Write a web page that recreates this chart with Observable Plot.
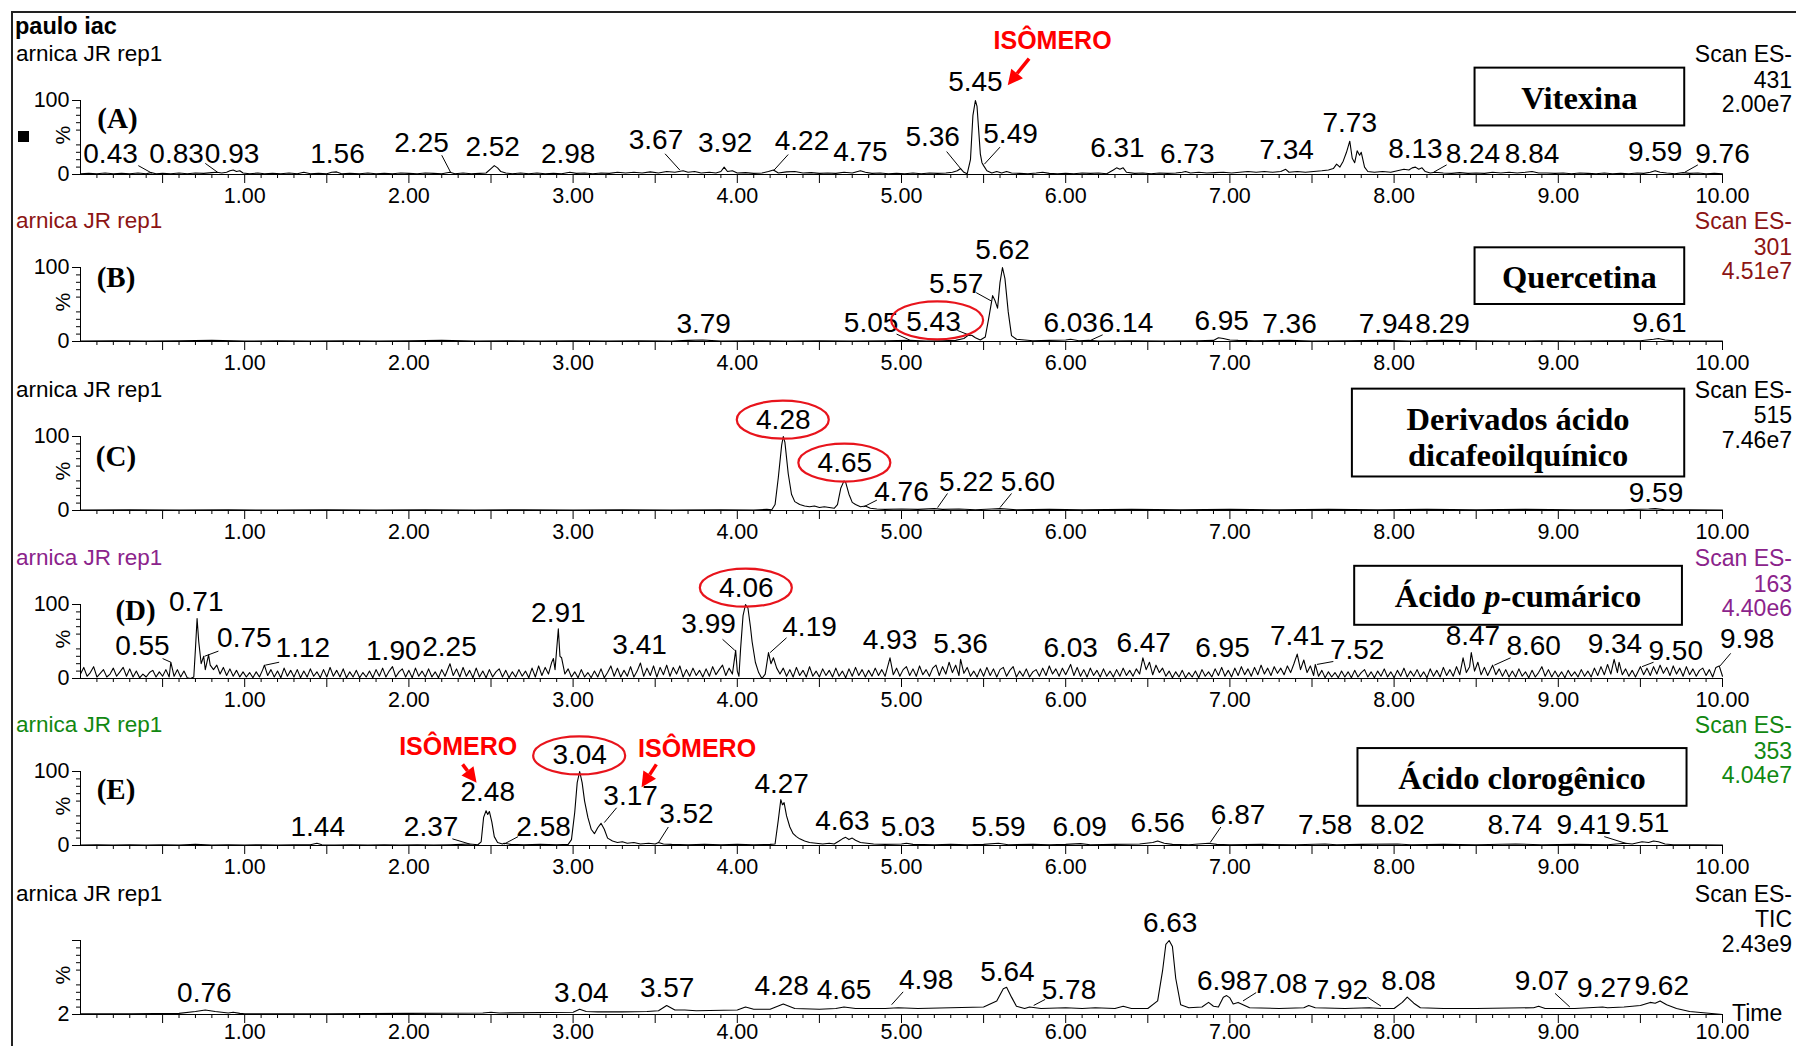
<!DOCTYPE html>
<html><head><meta charset="utf-8">
<script src="https://cdn.jsdelivr.net/npm/d3@7"></script>
<script src="https://cdn.jsdelivr.net/npm/@observablehq/plot@0.6"></script>
<style>
body{margin:0;background:#fff;}
#page{position:relative;width:1796px;height:1046px;overflow:hidden;background:#fff;font-family:"Liberation Sans",Arial,sans-serif;color:#000;}
</style></head><body><div id="page"></div>
<script>
// ---------------- DATA ----------------
const xMajor = [1,2,3,4,5,6,7,8,9,10];
const xMinor = [0.1,0.2,0.3,0.4,0.6,0.7,0.8,0.9,1.1,1.2,1.3,1.4,1.6,1.7,1.8,1.9,2.1,2.2,2.3,2.4,2.6,2.7,2.8,2.9,3.1,3.2,3.3,3.4,3.6,3.7,3.8,3.9,4.1,4.2,4.3,4.4,4.6,4.7,4.8,4.9,5.1,5.2,5.3,5.4,5.6,5.7,5.8,5.9,6.1,6.2,6.3,6.4,6.6,6.7,6.8,6.9,7.1,7.2,7.3,7.4,7.6,7.7,7.8,7.9,8.1,8.2,8.3,8.4,8.6,8.7,8.8,8.9,9.1,9.2,9.3,9.4,9.6,9.7,9.8,9.9];
const xHalf = [0.5,1,1.5,2,2.5,3,3.5,4,4.5,5,5.5,6,6.5,7,7.5,8,8.5,9,9.5,10];
const yMinor = [10,20,30,40,60,70,80,90];
const yMinorTIC = [11.8,21.6,31.4,41.2,60.8,70.6,80.4,90.2];

const traceA = [[0.00,1],[0.05,1.5],[0.10,1],[0.15,2],[0.20,1],[0.25,1.5],[0.30,1],[0.35,2],[0.40,1],[0.43,2.5],[0.46,1],[0.50,1.5],[0.55,1],[0.60,2],[0.65,1],[0.70,2],[0.75,1.5],[0.80,2.5],[0.83,3],[0.86,2],[0.89,3],[0.91,5],[0.93,6],[0.95,4],[0.97,5],[0.99,2],[1.03,1],[1.08,2],[1.12,1],[1.17,1.5],[1.22,1],[1.27,2],[1.32,1],[1.36,3],[1.40,1],[1.45,1.5],[1.50,1],[1.53,3],[1.56,3.5],[1.59,1],[1.64,1.5],[1.70,1],[1.75,2],[1.80,1],[1.85,1.5],[1.90,1],[1.95,2],[2.00,1.5],[2.05,1],[2.10,2],[2.15,1.5],[2.20,1],[2.25,3],[2.28,1],[2.33,2],[2.38,1],[2.43,1.5],[2.47,2],[2.50,8],[2.52,12],[2.54,9],[2.56,4],[2.59,2],[2.63,1],[2.68,2],[2.73,1],[2.78,2],[2.83,1],[2.88,1.5],[2.93,1],[2.98,3],[3.02,1.5],[3.07,2],[3.12,1],[3.17,2],[3.22,1.5],[3.27,3],[3.32,2],[3.37,3],[3.42,2],[3.47,3.5],[3.52,2],[3.57,4],[3.62,3],[3.67,5],[3.70,3],[3.74,4],[3.78,2],[3.83,3],[3.87,2],[3.90,4],[3.92,10],[3.94,4],[3.97,5],[4.00,2],[4.05,2.5],[4.10,1.5],[4.15,2],[4.19,4],[4.22,6],[4.25,2],[4.30,3.5],[4.35,4],[4.40,2],[4.45,2.5],[4.50,1.5],[4.55,2],[4.60,1.5],[4.65,3],[4.70,2],[4.75,5],[4.78,3],[4.82,1.5],[4.87,2],[4.92,1],[4.97,1.5],[5.02,1],[5.07,2],[5.12,1],[5.17,2],[5.22,1.5],[5.27,2],[5.31,3],[5.34,5],[5.36,8],[5.38,3],[5.40,1],[5.42,20],[5.435,80],[5.45,100],[5.46,92],[5.47,60],[5.48,28],[5.49,16],[5.50,12],[5.52,5],[5.55,2],[5.58,4],[5.61,2],[5.64,4],[5.67,2],[5.72,1.5],[5.77,1],[5.82,2],[5.86,3],[5.90,1.5],[5.95,1],[6.00,1.5],[6.05,1],[6.10,2],[6.15,1.5],[6.20,2],[6.25,1],[6.29,6],[6.31,9],[6.33,7],[6.35,9],[6.37,3],[6.42,1.5],[6.47,2],[6.52,1],[6.57,2],[6.62,1.5],[6.67,2],[6.71,3],[6.73,4],[6.76,2],[6.81,3],[6.86,2],[6.91,2.5],[6.96,3],[7.01,2],[7.06,3],[7.11,4],[7.16,3],[7.21,4],[7.26,3],[7.31,4],[7.34,7],[7.36,3],[7.41,4],[7.46,3],[7.51,4],[7.56,5],[7.60,6],[7.63,8],[7.65,14],[7.67,10],[7.69,18],[7.71,30],[7.73,45],[7.745,22],[7.76,16],[7.775,32],[7.79,26],[7.80,30],[7.82,10],[7.84,4],[7.88,3],[7.93,4],[7.98,3],[8.02,5],[8.06,7],[8.09,6],[8.11,9],[8.13,10],[8.15,7],[8.17,9],[8.19,4],[8.22,2],[8.25,3],[8.30,2],[8.35,1.5],[8.40,2.5],[8.45,1.5],[8.50,2],[8.55,1.5],[8.60,3],[8.65,2],[8.70,3],[8.75,2],[8.80,3],[8.84,4],[8.88,2],[8.93,2],[8.98,1.5],[9.03,2],[9.08,1],[9.13,2],[9.18,1.5],[9.23,1],[9.28,2],[9.33,1],[9.38,1.5],[9.43,1],[9.48,2],[9.52,1.5],[9.56,3],[9.59,5],[9.62,3],[9.66,2],[9.71,1],[9.76,2.5],[9.80,1.5],[9.85,2],[9.90,1],[9.95,1.5],[10.00,1]];

const traceB = [[0,0.5],[0.2,1],[0.4,0.5],[0.6,1],[0.8,1.5],[1.0,0.5],[1.2,1],[1.4,0.5],[1.6,1],[1.8,0.5],[2.0,1],[2.2,1.5],[2.4,0.5],[2.6,1],[2.8,0.5],[3.0,1],[3.2,0.5],[3.4,1],[3.6,0.5],[3.7,1.5],[3.79,2],[3.9,0.5],[4.1,1],[4.3,0.5],[4.5,1],[4.7,0.5],[4.9,1],[5.05,1.5],[5.15,0.5],[5.25,1],[5.33,1.5],[5.38,4],[5.41,9],[5.43,8],[5.45,5],[5.48,2],[5.51,6],[5.53,30],[5.555,62],[5.57,55],[5.585,45],[5.60,80],[5.615,100],[5.63,85],[5.65,40],[5.67,8],[5.70,3],[5.75,2],[5.8,1],[5.9,1.5],[6.0,2],[6.03,3],[6.08,1],[6.14,1.5],[6.2,0.5],[6.4,1],[6.6,0.5],[6.8,1],[6.9,1.5],[6.93,5],[6.96,4],[7.0,2],[7.05,1.5],[7.15,1],[7.36,1.5],[7.5,0.5],[7.7,1],[7.94,1.5],[8.1,0.5],[8.29,1.5],[8.5,1],[8.7,0.5],[8.9,1],[9.1,0.5],[9.3,1],[9.5,1],[9.58,3],[9.61,4],[9.65,2],[9.7,1],[9.8,0.5],[10,0.5]];

const traceC = [[0,0.5],[0.3,1],[0.6,0.5],[0.9,1],[1.2,0.5],[1.5,1],[1.8,0.5],[2.1,1],[2.4,0.5],[2.7,1],[3.0,0.5],[3.3,1],[3.6,0.5],[3.9,1],[4.1,0.5],[4.18,1.5],[4.21,1],[4.23,8],[4.25,45],[4.27,88],[4.28,100],[4.29,92],[4.31,50],[4.33,22],[4.35,12],[4.38,8],[4.41,6],[4.44,5],[4.47,6],[4.50,4],[4.53,5],[4.56,4],[4.59,3],[4.61,8],[4.63,30],[4.65,40],[4.66,38],[4.68,22],[4.70,11],[4.72,8],[4.75,5],[4.78,6],[4.81,3],[4.85,2],[4.9,1.5],[5.0,2],[5.1,1.5],[5.2,2.5],[5.25,1.5],[5.35,2],[5.45,1],[5.55,2],[5.6,2.5],[5.7,1],[5.9,1.5],[6.1,1],[6.4,1.5],[6.7,1],[7.0,1.5],[7.3,1],[7.6,1.5],[7.9,1],[8.2,1.5],[8.5,1],[8.8,1.5],[9.1,1],[9.4,1],[9.55,2],[9.59,2.5],[9.65,1],[9.8,1],[10,0.5]];

const traceD = [[0,6],[0.02,15],[0.04,3],[0.06,8],[0.08,16],[0.10,2],[0.12,7],[0.14,12],[0.16,2],[0.18,6],[0.20,14],[0.22,3],[0.24,9],[0.26,15],[0.28,3],[0.30,13],[0.32,2],[0.34,10],[0.36,1],[0.38,6],[0.40,2],[0.42,8],[0.44,11],[0.46,2],[0.48,9],[0.50,3],[0.52,12],[0.54,2],[0.55,22],[0.57,3],[0.59,12],[0.61,2],[0.63,10],[0.65,1],[0.67,0],[0.69,2],[0.70,40],[0.71,81],[0.72,50],[0.735,20],[0.75,30],[0.76,12],[0.78,32],[0.79,18],[0.81,12],[0.83,18],[0.85,6],[0.87,15],[0.89,4],[0.91,13],[0.93,3],[0.95,11],[0.97,2],[0.99,9],[1.01,2],[1.03,8],[1.05,1],[1.07,9],[1.09,2],[1.11,12],[1.12,18],[1.14,4],[1.16,12],[1.18,2],[1.20,10],[1.22,1],[1.24,14],[1.26,3],[1.28,11],[1.30,2],[1.32,12],[1.34,1],[1.36,10],[1.38,2],[1.40,13],[1.42,3],[1.44,9],[1.46,1],[1.48,12],[1.50,2],[1.52,15],[1.54,3],[1.56,11],[1.58,2],[1.60,13],[1.62,1],[1.64,9],[1.66,2],[1.68,11],[1.70,1],[1.72,8],[1.74,2],[1.76,10],[1.78,1],[1.80,12],[1.82,3],[1.84,14],[1.86,2],[1.88,10],[1.90,16],[1.92,2],[1.94,9],[1.96,13],[1.98,2],[2.00,11],[2.02,1],[2.04,14],[2.06,3],[2.08,10],[2.10,2],[2.12,13],[2.14,2],[2.16,9],[2.18,1],[2.20,12],[2.22,3],[2.25,20],[2.27,4],[2.29,13],[2.31,2],[2.33,15],[2.35,3],[2.37,11],[2.39,1],[2.41,14],[2.43,2],[2.45,10],[2.47,1],[2.49,12],[2.51,2],[2.53,9],[2.55,13],[2.57,2],[2.59,11],[2.61,1],[2.63,9],[2.65,2],[2.67,12],[2.69,3],[2.71,10],[2.73,1],[2.75,14],[2.77,2],[2.79,17],[2.81,4],[2.83,15],[2.85,6],[2.87,22],[2.88,27],[2.89,12],[2.91,67],[2.92,30],[2.93,28],[2.95,6],[2.97,13],[2.99,2],[3.01,9],[3.03,1],[3.05,12],[3.07,2],[3.09,8],[3.11,1],[3.13,10],[3.15,2],[3.17,13],[3.19,1],[3.21,8],[3.23,17],[3.25,3],[3.27,14],[3.29,2],[3.31,11],[3.33,3],[3.35,16],[3.37,2],[3.39,10],[3.41,21],[3.43,3],[3.45,14],[3.47,4],[3.49,17],[3.51,2],[3.53,15],[3.55,5],[3.57,18],[3.59,3],[3.61,15],[3.63,6],[3.65,17],[3.67,2],[3.69,12],[3.71,3],[3.73,14],[3.75,4],[3.77,11],[3.79,2],[3.81,13],[3.83,3],[3.85,16],[3.87,5],[3.89,12],[3.91,18],[3.93,4],[3.95,14],[3.97,6],[3.99,38],[4.00,10],[4.01,3],[4.02,40],[4.035,85],[4.05,100],[4.065,95],[4.08,70],[4.09,50],[4.11,22],[4.13,8],[4.15,0],[4.17,6],[4.19,35],[4.205,20],[4.22,28],[4.24,14],[4.26,6],[4.28,14],[4.30,3],[4.32,12],[4.34,2],[4.36,15],[4.38,4],[4.40,11],[4.42,2],[4.44,16],[4.46,3],[4.48,10],[4.50,2],[4.52,13],[4.54,4],[4.56,11],[4.58,2],[4.60,14],[4.62,3],[4.64,10],[4.66,1],[4.68,13],[4.70,3],[4.72,15],[4.74,4],[4.76,12],[4.78,2],[4.80,11],[4.82,3],[4.84,14],[4.86,4],[4.88,12],[4.90,3],[4.93,28],[4.95,5],[4.97,14],[4.99,3],[5.01,12],[5.03,16],[5.05,4],[5.07,13],[5.09,3],[5.11,17],[5.13,5],[5.15,12],[5.17,3],[5.19,14],[5.21,18],[5.23,4],[5.25,16],[5.27,6],[5.29,22],[5.31,8],[5.33,18],[5.35,4],[5.36,26],[5.38,7],[5.40,15],[5.42,3],[5.44,10],[5.46,2],[5.48,13],[5.50,3],[5.52,15],[5.54,4],[5.56,13],[5.58,2],[5.60,12],[5.62,15],[5.64,3],[5.66,11],[5.68,16],[5.70,2],[5.72,10],[5.74,3],[5.76,13],[5.78,2],[5.80,9],[5.82,12],[5.84,3],[5.86,14],[5.88,4],[5.90,17],[5.92,6],[5.94,13],[5.96,3],[5.98,14],[6.00,5],[6.03,19],[6.05,4],[6.07,15],[6.09,3],[6.11,12],[6.13,2],[6.15,14],[6.17,4],[6.19,11],[6.21,2],[6.23,13],[6.25,3],[6.27,10],[6.29,2],[6.31,12],[6.33,3],[6.35,14],[6.37,4],[6.39,11],[6.41,3],[6.43,13],[6.45,6],[6.47,28],[6.49,12],[6.51,22],[6.53,5],[6.55,18],[6.57,8],[6.59,14],[6.61,3],[6.63,10],[6.65,1],[6.67,9],[6.69,2],[6.71,11],[6.73,1],[6.75,8],[6.77,2],[6.79,10],[6.81,1],[6.83,12],[6.85,3],[6.87,9],[6.89,2],[6.91,13],[6.93,4],[6.95,15],[6.97,3],[6.99,11],[7.01,2],[7.03,14],[7.05,4],[7.07,16],[7.09,5],[7.11,13],[7.13,3],[7.15,15],[7.17,5],[7.19,18],[7.21,6],[7.23,14],[7.25,4],[7.27,16],[7.29,7],[7.31,14],[7.33,5],[7.35,17],[7.37,8],[7.39,20],[7.41,33],[7.43,12],[7.45,25],[7.47,8],[7.49,17],[7.51,4],[7.52,19],[7.54,3],[7.56,11],[7.58,1],[7.60,9],[7.62,2],[7.64,8],[7.66,1],[7.68,10],[7.70,2],[7.72,9],[7.74,1],[7.76,11],[7.78,2],[7.80,8],[7.82,12],[7.84,2],[7.86,9],[7.88,1],[7.90,10],[7.92,3],[7.94,13],[7.96,2],[7.98,9],[8.00,1],[8.02,11],[8.04,3],[8.06,14],[8.08,2],[8.10,10],[8.12,3],[8.14,12],[8.16,2],[8.18,9],[8.20,1],[8.22,13],[8.24,3],[8.26,11],[8.28,2],[8.30,15],[8.32,4],[8.34,12],[8.36,3],[8.38,16],[8.40,5],[8.42,28],[8.44,8],[8.46,16],[8.47,35],[8.49,10],[8.51,22],[8.53,5],[8.55,15],[8.57,4],[8.60,18],[8.62,5],[8.64,13],[8.66,3],[8.68,12],[8.70,2],[8.72,10],[8.74,2],[8.76,13],[8.78,3],[8.80,9],[8.82,1],[8.84,11],[8.86,2],[8.88,8],[8.90,16],[8.92,3],[8.94,12],[8.96,2],[8.98,10],[9.00,2],[9.02,9],[9.04,1],[9.06,11],[9.08,3],[9.10,9],[9.12,2],[9.14,12],[9.16,3],[9.18,10],[9.20,2],[9.22,14],[9.24,4],[9.26,16],[9.28,5],[9.30,19],[9.32,6],[9.34,26],[9.36,8],[9.37,22],[9.39,5],[9.41,13],[9.43,3],[9.45,11],[9.47,2],[9.50,16],[9.52,5],[9.54,14],[9.56,4],[9.58,16],[9.60,6],[9.62,18],[9.64,7],[9.66,15],[9.68,4],[9.70,17],[9.72,6],[9.74,14],[9.76,3],[9.78,16],[9.80,5],[9.82,13],[9.84,3],[9.86,11],[9.88,14],[9.90,4],[9.92,12],[9.94,2],[9.96,15],[9.98,17],[10.00,3]];

const traceE = [[0,0.5],[0.1,1],[0.2,0.5],[0.3,1],[0.4,0.5],[0.5,1],[0.6,0.5],[0.7,1.5],[0.8,0.5],[0.9,1],[1.0,0.5],[1.1,1],[1.2,0.5],[1.3,1],[1.4,1],[1.44,3],[1.47,1],[1.55,0.5],[1.65,1],[1.75,0.5],[1.85,1],[1.95,0.5],[2.05,1],[2.15,0.5],[2.25,1],[2.32,1.5],[2.37,2],[2.42,1],[2.44,5],[2.455,38],[2.47,47],[2.48,42],[2.49,46],[2.505,32],[2.52,12],[2.54,4],[2.57,2],[2.58,3],[2.62,1.5],[2.7,1],[2.8,1.5],[2.9,1],[2.97,1.5],[2.99,8],[3.01,45],[3.025,85],[3.04,100],[3.055,85],[3.07,60],[3.09,38],[3.11,22],[3.13,16],[3.15,24],[3.17,30],[3.19,22],[3.21,10],[3.24,6],[3.27,4],[3.30,5],[3.33,3],[3.37,4],[3.41,2],[3.46,3],[3.50,2],[3.52,4],[3.55,2],[3.6,1.5],[3.7,1],[3.8,1.5],[3.9,1],[4.0,1.5],[4.1,1],[4.2,1.5],[4.23,2],[4.25,35],[4.265,62],[4.275,55],[4.285,58],[4.30,40],[4.32,25],[4.34,16],[4.36,12],[4.38,9],[4.41,6],[4.44,4],[4.48,3],[4.52,2],[4.56,3],[4.59,2],[4.62,6],[4.64,9],[4.66,11],[4.68,8],[4.70,10],[4.72,7],[4.75,4],[4.79,3],[4.83,2],[4.9,1.5],[5.0,2],[5.03,3],[5.07,1.5],[5.2,1],[5.3,1.5],[5.4,1],[5.5,1.5],[5.59,3],[5.65,1],[5.8,1.5],[5.9,1],[6.0,1.5],[6.09,2.5],[6.15,1],[6.3,1.5],[6.45,2],[6.53,4],[6.56,6],[6.6,3],[6.65,1.5],[6.75,1],[6.87,3],[6.92,1.5],[7.0,1],[7.2,1.5],[7.4,1],[7.58,2],[7.65,1],[7.8,1.5],[8.02,2],[8.1,1],[8.3,1.5],[8.5,1],[8.74,2],[8.9,1],[9.1,1.5],[9.3,1],[9.41,3],[9.45,2],[9.51,5],[9.55,4],[9.58,6],[9.61,5],[9.65,2],[9.7,1],[9.85,1],[10,0.5]];

const traceF = [[0,3],[0.3,3],[0.6,3.5],[0.7,6],[0.76,8],[0.82,6],[0.9,4],[0.93,5],[0.97,3.5],[1.0,3],[1.5,3],[2.0,3.5],[2.45,4],[2.5,5],[2.55,4],[3.0,5],[3.04,9],[3.08,6],[3.15,5.5],[3.3,5.5],[3.45,6],[3.52,7],[3.57,14],[3.62,8],[3.68,8],[3.75,7],[4.0,8],[4.05,12],[4.1,9],[4.2,9],[4.28,16],[4.35,10],[4.5,9],[4.6,10],[4.65,12],[4.72,10],[4.9,10],[4.98,11],[5.1,10],[5.3,11],[5.5,12],[5.58,20],[5.62,36],[5.64,38],[5.67,25],[5.7,13],[5.75,10],[5.78,12],[5.85,10],[6.0,11],[6.1,10],[6.18,11],[6.3,10],[6.35,13],[6.4,10],[6.5,10],[6.56,20],[6.59,60],[6.61,95],[6.63,100],[6.65,92],[6.67,50],[6.7,15],[6.75,11],[6.83,12],[6.87,18],[6.9,13],[6.93,12],[6.96,25],[6.98,27],[7.0,24],[7.02,16],[7.05,18],[7.08,15],[7.12,11],[7.3,10],[7.45,11],[7.48,14],[7.52,11],[7.7,10],[7.85,11],[7.92,10],[8.0,10],[8.05,18],[8.08,25],[8.12,17],[8.16,11],[8.3,10],[8.5,10],[8.85,11],[8.88,13],[8.92,10],[9.1,10],[9.27,12],[9.3,11],[9.4,12],[9.5,14],[9.56,18],[9.59,17],[9.62,20],[9.66,15],[9.72,10],[9.8,6],[9.9,4],[10.0,2]];

// peak labels: t = text, x/y = label centre (time, %), l = leader [x1,y1,x2,y2]
const labelsA = [
 {t:"0.43",x:0.183,y:27,l:[0.352,12,0.433,2]},{t:"0.83",x:0.585,y:27,l:[0.76,15,0.835,3]},
 {t:"0.93",x:0.923,y:27},{t:"1.56",x:1.565,y:27},{t:"2.25",x:2.077,y:42,l:[2.20,26,2.254,3]},
 {t:"2.52",x:2.51,y:37},{t:"2.98",x:2.97,y:27},{t:"3.67",x:3.505,y:47,l:[3.56,28,3.65,6]},
 {t:"3.92",x:3.926,y:42},{t:"4.22",x:4.394,y:45,l:[4.31,27,4.22,5]},{t:"4.75",x:4.75,y:30},
 {t:"5.36",x:5.19,y:50,l:[5.275,31,5.36,8]},{t:"5.45",x:5.45,y:125},
 {t:"5.49",x:5.664,y:55,l:[5.60,37,5.505,14]},{t:"6.31",x:6.315,y:36},{t:"6.73",x:6.74,y:28},
 {t:"7.34",x:7.345,y:33},{t:"7.73",x:7.73,y:70},{t:"8.13",x:8.13,y:34},
 {t:"8.24",x:8.48,y:28,l:[8.32,13,8.24,3]},{t:"8.84",x:8.84,y:28},{t:"9.59",x:9.59,y:30},
 {t:"9.76",x:10.0,y:28,l:[9.85,13,9.77,3]}];
const labelsB = [
 {t:"3.79",x:3.795,y:23},{t:"5.05",x:4.815,y:25,l:[4.97,10,5.05,2]},
 {t:"5.43",x:5.195,y:26,l:[5.34,15,5.42,8]},{t:"5.57",x:5.333,y:78,l:[5.455,66,5.545,55]},
 {t:"5.62",x:5.615,y:123},{t:"6.03",x:6.03,y:25},{t:"6.14",x:6.367,y:25,l:[6.225,9,6.155,2]},
 {t:"6.95",x:6.95,y:28},{t:"7.36",x:7.363,y:23},{t:"7.94",x:7.95,y:23},{t:"8.29",x:8.295,y:23},
 {t:"9.61",x:9.616,y:25}];
const labelsC = [
 {t:"4.28",x:4.28,y:122},{t:"4.65",x:4.655,y:64},{t:"4.76",x:5.00,y:25,l:[4.85,14,4.77,5]},
 {t:"5.22",x:5.395,y:39,l:[5.28,23,5.22,4]},{t:"5.60",x:5.77,y:39,l:[5.67,23,5.60,4]},
 {t:"9.59",x:9.595,y:23}];
const labelsD = [
 {t:"0.55",x:0.377,y:44,l:[0.50,27,0.55,22]},{t:"0.71",x:0.705,y:103},
 {t:"0.75",x:0.998,y:55,l:[0.84,37,0.755,30]},{t:"1.12",x:1.354,y:41,l:[1.21,22,1.125,18]},
 {t:"1.90",x:1.905,y:37},{t:"2.25",x:2.247,y:42},{t:"2.91",x:2.91,y:89},{t:"3.41",x:3.405,y:45},
 {t:"3.99",x:3.825,y:73,l:[3.91,53,3.985,38]},{t:"4.06",x:4.055,y:122},
 {t:"4.19",x:4.44,y:70,l:[4.30,55,4.20,35]},{t:"4.93",x:4.93,y:52},{t:"5.36",x:5.36,y:47},
 {t:"6.03",x:6.03,y:41},{t:"6.47",x:6.475,y:48},{t:"6.95",x:6.955,y:41},{t:"7.41",x:7.41,y:58},
 {t:"7.52",x:7.775,y:39,l:[7.63,23,7.53,19]},{t:"8.47",x:8.48,y:58},
 {t:"8.60",x:8.85,y:44,l:[8.71,28,8.61,18]},{t:"9.34",x:9.345,y:47},
 {t:"9.50",x:9.715,y:37,l:[9.58,22,9.51,16]},{t:"9.98",x:10.15,y:53,l:[10.05,34,9.985,17]}];
const labelsE = [
 {t:"1.44",x:1.445,y:25},{t:"2.37",x:2.135,y:25,l:[2.265,9,2.37,2]},{t:"2.48",x:2.48,y:72},
 {t:"2.58",x:2.82,y:25,l:[2.665,12,2.58,2]},{t:"3.04",x:3.04,y:122},
 {t:"3.17",x:3.35,y:67,l:[3.265,51,3.19,31]},{t:"3.52",x:3.69,y:42,l:[3.58,25,3.52,4]},
 {t:"4.27",x:4.27,y:83},{t:"4.63",x:4.64,y:33},{t:"5.03",x:5.04,y:25},{t:"5.59",x:5.59,y:25},
 {t:"6.09",x:6.085,y:25},{t:"6.56",x:6.56,y:31},{t:"6.87",x:7.05,y:41,l:[6.945,25,6.88,4]},
 {t:"7.58",x:7.58,y:28},{t:"8.02",x:8.02,y:28},{t:"8.74",x:8.735,y:28},
 {t:"9.41",x:9.155,y:27,l:[9.28,12,9.41,3]},{t:"9.51",x:9.51,y:31}];
const labelsF = [
 {t:"0.76",x:0.754,y:31},{t:"3.04",x:3.05,y:31},{t:"3.57",x:3.573,y:37},{t:"4.28",x:4.27,y:40},
 {t:"4.65",x:4.65,y:35},{t:"4.98",x:5.15,y:47,l:[5.01,32,4.94,15]},{t:"5.64",x:5.645,y:58},
 {t:"5.78",x:6.02,y:34,l:[5.875,22,5.805,14]},{t:"6.63",x:6.636,y:123},{t:"6.98",x:6.965,y:46},
 {t:"7.08",x:7.305,y:43,l:[7.16,31,7.08,20]},{t:"7.92",x:7.676,y:35,l:[7.837,25,7.92,13]},
 {t:"8.08",x:8.088,y:46},{t:"9.07",x:8.90,y:46,l:[8.98,30,9.07,12]},{t:"9.27",x:9.28,y:37},
 {t:"9.62",x:9.63,y:40}];

// circled peaks (centre of ellipse, time / %)
const circlesB = [{x:5.22,y:28}];
const circlesC = [{x:4.28,y:122},{x:4.655,y:64}];
const circlesD = [{x:4.055,y:122}];
const circlesE = [{x:3.04,y:121}];

// "ISÔMERO" notes: text centre and arrow [x1,y1,x2,y2]
const isoA = [{x:5.92,y:181,a:[5.78,156,5.65,120]}];
const isoE = [{x:2.30,y:133,a:[2.33,109,2.415,84]},{x:3.755,y:131,a:[3.51,109,3.42,78]}];

// compound boxes
const boxA = {x1:8.493,x2:9.77,y1:65.6,y2:143.75,lines:[[{s:"Vitexina"}]],ly:[103]};
const boxB = {x1:8.493,x2:9.77,y1:50,y2:126.6,lines:[[{s:"Quercetina"}]],ly:[87.5]};
const boxC = {x1:7.746,x2:9.77,y1:45.3,y2:164,lines:[[{s:"Derivados ácido"}],[{s:"dicafeoilquínico"}]],ly:[123.4,75]};
const boxD = {x1:7.76,x2:9.756,y1:71.9,y2:151.6,lines:[[{s:"Ácido "},{s:"p",i:true},{s:"-cumárico"}]],ly:[111]};
const boxE = {x1:7.78,x2:9.784,y1:53,y2:131,lines:[[{s:"Ácido clorogênico"}]],ly:[90.6]};

const panels = [
 {trace:traceA,labels:labelsA,circles:[],iso:isoA,box:boxA,letter:"(A)",lp:[0.225,76],color:"#000",scan:["Scan ES-","431","2.00e7"],base:174.1,yd:[0,100],yl:[0,100],ym:yMinor,tdy:22},
 {trace:traceB,labels:labelsB,circles:circlesB,iso:[],box:boxB,letter:"(B)",lp:[0.216,86],color:"#8c1414",scan:["Scan ES-","301","4.51e7"],base:341.3,yd:[0,100],yl:[0,100],ym:yMinor,tdy:22},
 {trace:traceC,labels:labelsC,circles:circlesC,iso:[],box:boxC,letter:"(C)",lp:[0.216,73],color:"#000",scan:["Scan ES-","515","7.46e7"],base:509.7,yd:[0,100],yl:[0,100],ym:yMinor,tdy:22},
 {trace:traceD,labels:labelsD,circles:circlesD,iso:[],box:boxD,letter:"(D)",lp:[0.335,91],color:"#8b238b",scan:["Scan ES-","163","4.40e6"],base:678.1,yd:[0,100],yl:[0,100],ym:yMinor,tdy:22},
 {trace:traceE,labels:labelsE,circles:circlesE,iso:isoE,box:boxE,letter:"(E)",lp:[0.216,75],color:"#118811",scan:["Scan ES-","353","4.04e7"],base:845.3,yd:[0,100],yl:[0,100],ym:yMinor,tdy:22},
 {trace:traceF,labels:labelsF,circles:[],iso:[],box:null,letter:null,color:"#000",scan:["Scan ES-","TIC","2.43e9"],base:1013.7,yd:[2,100],yl:[2],ym:yMinorTIC,tdy:18}
];

// ---------------- DRAWING ----------------
const W = 1796, H = 168, MT = 60, MB = 34, ML = 80, MR = 74;
const SANS = "Liberation Sans, Arial, sans-serif", SERIF = "Liberation Serif, Times New Roman, serif";
const page = document.getElementById("page");

function el(tag, css, html) { const e = document.createElement(tag); e.style.cssText = css; if (html != null) e.innerHTML = html; page.appendChild(e); return e; }
el("div","position:absolute;left:12px;top:11px;width:1784px;height:2px;background:#222;");
el("div","position:absolute;left:11px;top:11px;width:2px;height:1035px;background:#222;");
el("div","position:absolute;left:15px;top:13px;font-size:23.5px;font-weight:bold;line-height:26px;white-space:nowrap;","paulo iac");
el("div","position:absolute;left:18px;top:131px;width:11px;height:11px;background:#000;");

function ellipses(data) {
  return (index, scales) => {
    const g = d3.create("svg:g");
    for (const d of data) g.append("ellipse").attr("cx", scales.x(d.x)).attr("cy", scales.y(d.y))
      .attr("rx", 46).attr("ry", 19).attr("fill", "none").attr("stroke", "#e8141c").attr("stroke-width", 2.2);
    return g.node();
  };
}
function arrows(data) {
  return (index, scales) => {
    const g = d3.create("svg:g");
    for (const d of data) {
      const x1 = scales.x(d.a[0]), y1 = scales.y(d.a[1]), x2 = scales.x(d.a[2]), y2 = scales.y(d.a[3]);
      const an = Math.atan2(y2 - y1, x2 - x1), L = 15, w = 7.5;
      const bx = x2 - L * Math.cos(an), by = y2 - L * Math.sin(an);
      g.append("line").attr("x1", x1).attr("y1", y1).attr("x2", bx).attr("y2", by).attr("stroke", "#ff0000").attr("stroke-width", 3.5);
      g.append("path").attr("d", `M${x2},${y2}L${bx + w*Math.sin(an)},${by - w*Math.cos(an)}L${bx - w*Math.sin(an)},${by + w*Math.cos(an)}Z`).attr("fill", "#ff0000");
    }
    return g.node();
  };
}
function boxText(box) {
  return (index, scales) => {
    const g = d3.create("svg:g");
    const cx = scales.x((box.x1 + box.x2) / 2);
    box.lines.forEach((line, k) => {
      const t = g.append("text").attr("x", cx).attr("y", scales.y(box.ly[k])).attr("dy", "0.35em")
        .attr("text-anchor", "middle").attr("font-family", SERIF).attr("font-weight", "bold").attr("font-size", 32.5).attr("fill", "#000");
      for (const seg of line) { const ts = t.append("tspan").text(seg.s); if (seg.i) ts.attr("font-style", "italic"); }
    });
    return g.node();
  };
}

panels.forEach((p, k) => {
  const y0 = p.yd[0], uy = (p.yd[1] - p.yd[0]) / (H - MT - MB), ux = 10 / (W - ML - MR);
  const top = p.base - (H - MB);
  const hdrTop = p.base - 120;
  el("div", `position:absolute;left:16px;top:${hdrTop - 13}px;font-size:22.5px;line-height:26px;color:${p.color};white-space:nowrap;`, "arnica JR rep1");
  p.scan.forEach((s, i) => el("div", `position:absolute;right:4px;top:${hdrTop - 13 + [0, 25.5, 50][i]}px;font-size:23px;line-height:26px;color:${p.color};text-align:right;white-space:nowrap;`, s));

  const marks = [
    Plot.ruleY([y0], {x1: 0, x2: 10, stroke: "#000", strokeWidth: 1}),
    Plot.ruleX([0], {y1: y0, y2: 100, stroke: "#000", strokeWidth: 1}),
    Plot.ruleX(xMinor, {x: d => d, y1: y0, y2: y0 - 4 * uy, stroke: "#000", strokeWidth: 1}),
    Plot.ruleX(xHalf, {x: d => d, y1: y0, y2: y0 - 9 * uy, stroke: "#000", strokeWidth: 1}),
    Plot.ruleY(p.ym, {y: d => d, x1: -4 * ux, x2: 0, stroke: "#000", strokeWidth: 1}),
    Plot.ruleY([y0, 100], {y: d => d, x1: -8 * ux, x2: 0, stroke: "#000", strokeWidth: 1}),
    Plot.text(xMajor, {x: d => d, y: y0, dy: p.tdy, text: d => d.toFixed(2), fontSize: 21.5, fontFamily: SANS, fill: "#000"}),
    Plot.text(p.yl, {x: 0, y: d => d, dx: -11, textAnchor: "end", text: d => String(d), fontSize: 21.5, fontFamily: SANS, fill: "#000"}),
    Plot.text(["%"], {x: 0, y: y0 + (100 - y0) * 0.53, dx: -17, rotate: -90, text: d => d, fontSize: 21, fontFamily: SANS, fill: "#000"}),
    Plot.line(p.trace, {x: d => d[0], y: d => d[1], stroke: "#000", strokeWidth: 1.1}),
    Plot.link(p.labels.filter(d => d.l), {x1: d => d.l[0], y1: d => d.l[1], x2: d => d.l[2], y2: d => d.l[3], stroke: "#000", strokeWidth: 1}),
    Plot.text(p.labels, {x: "x", y: "y", text: "t", fontSize: 28, fontFamily: SANS, fill: "#000"})
  ];
  if (p.circles.length) marks.push(ellipses(p.circles));
  if (p.iso.length) {
    marks.push(Plot.text(p.iso, {x: "x", y: "y", text: () => "ISÔMERO", fontSize: 25, fontWeight: "bold", fontFamily: SANS, fill: "#ff0000"}));
    marks.push(arrows(p.iso));
  }
  if (p.box) {
    marks.push(Plot.rect([p.box], {x1: "x1", x2: "x2", y1: "y1", y2: "y2", fill: "#fff", stroke: "#000", strokeWidth: 2}));
    marks.push(boxText(p.box));
  }
  if (p.letter) marks.push(Plot.text([p.letter], {x: p.lp[0], y: p.lp[1], text: d => d, fontSize: 29, fontWeight: "bold", fontFamily: SERIF, fill: "#000"}));

  const chart = Plot.plot({
    width: W, height: H, marginTop: MT, marginBottom: MB, marginLeft: ML, marginRight: MR,
    x: {domain: [0, 10], axis: null},
    y: {domain: p.yd, axis: null},
    style: {background: "transparent", overflow: "visible", fontFamily: SANS},
    marks
  });
  const holder = el("div", `position:absolute;left:0;top:${top}px;width:${W}px;height:${H}px;`);
  holder.appendChild(chart);
});
el("div", "position:absolute;left:1732px;top:1000px;font-size:23px;line-height:26px;white-space:nowrap;", "Time");
</script>
</body></html>
